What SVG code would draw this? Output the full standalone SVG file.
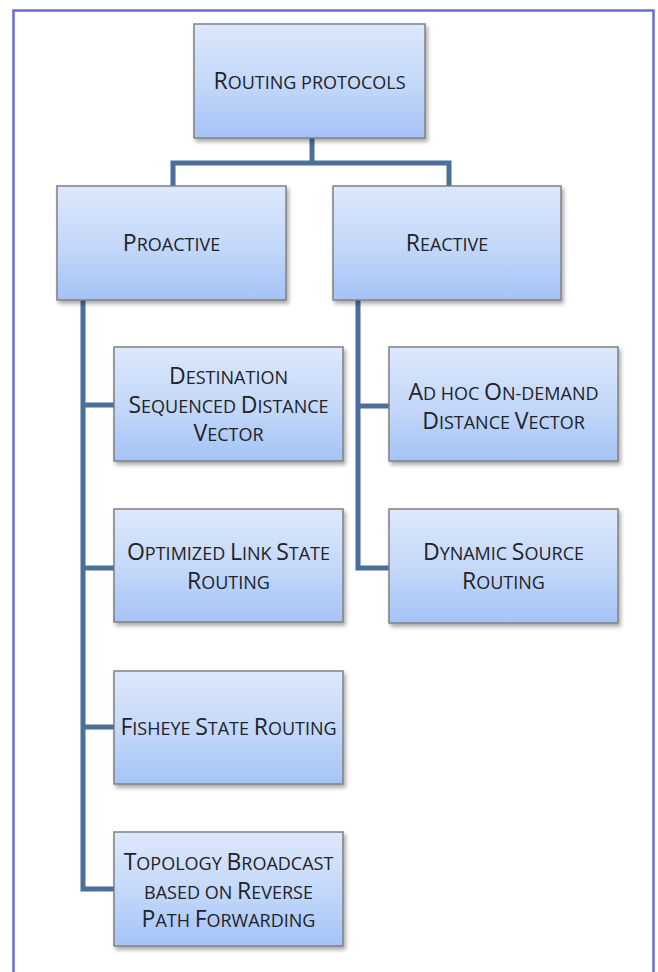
<svg xmlns="http://www.w3.org/2000/svg" width="658" height="972" viewBox="0 0 658 972">
  <style>
    .box { fill: url(#boxFill); stroke: #808080; stroke-width: 1.5; filter: url(#shadow); }
    .lbl { font-family: "Open Sans", "Liberation Sans", sans-serif; font-size: 23px; fill: #222228; text-anchor: middle; }
    .s { font-size: 18px; text-transform: uppercase; }
    .conn { fill: none; stroke: #4a6f9b; stroke-width: 5; stroke-linejoin: miter; }
  </style>
  <defs>
    <linearGradient id="boxFill" x1="0" y1="0" x2="0" y2="1">
      <stop offset="0" stop-color="#dde8fb"/>
      <stop offset="0.55" stop-color="#c2d7f9"/>
      <stop offset="1" stop-color="#a4c3f6"/>
    </linearGradient>
    <filter id="shadow" x="-10%" y="-10%" width="130%" height="130%">
      <feDropShadow dx="2" dy="3" stdDeviation="2" flood-color="#000" flood-opacity="0.35"/>
    </filter>
  </defs>

  <rect width="658" height="972" fill="#ffffff"/>
  <!-- outer frame -->
  <path d="M13.5 980 V10.5 H653.5 V980" fill="none" stroke="#6b6bdc" stroke-width="2.5"/>

  <!-- connectors -->
  <g id="connectors">
    <path class="conn" d="M312 138 V163 M173 186 V163 H449 V186"/>
    <path class="conn" d="M83 300 V889 H114 M83 405 H114 M83 568 H114 M83 727 H114"/>
    <path class="conn" d="M358 300 V568 H389 M358 406 H389"/>
  </g>

  <g id="routing-protocols">
    <rect class="box" x="194" y="24" width="231" height="114"/>
    <text class="lbl" x="309.5" y="89">R<tspan class="s">outing protocols</tspan></text>
  </g>
  <g id="proactive">
    <rect class="box" x="57" y="186" width="229" height="114"/>
    <text class="lbl" x="171.5" y="251">P<tspan class="s">roactive</tspan></text>
  </g>
  <g id="reactive">
    <rect class="box" x="333" y="186" width="228" height="114"/>
    <text class="lbl" x="447" y="251">R<tspan class="s">eactive</tspan></text>
  </g>
  <g id="dsdv">
    <rect class="box" x="114" y="347" width="229" height="114"/>
    <text class="lbl" x="228.5" y="384">D<tspan class="s">estination</tspan></text>
    <text class="lbl" x="228.5" y="413">S<tspan class="s">equenced </tspan>D<tspan class="s">istance</tspan></text>
    <text class="lbl" x="228.5" y="441">V<tspan class="s">ector</tspan></text>
  </g>
  <g id="olsr">
    <rect class="box" x="114" y="509" width="229" height="113"/>
    <text class="lbl" x="228.5" y="560">O<tspan class="s">ptimized </tspan>L<tspan class="s">ink </tspan>S<tspan class="s">tate</tspan></text>
    <text class="lbl" x="228.5" y="589">R<tspan class="s">outing</tspan></text>
  </g>
  <g id="fsr">
    <rect class="box" x="114" y="671" width="229" height="113"/>
    <text class="lbl" x="228.5" y="735">F<tspan class="s">isheye </tspan>S<tspan class="s">tate </tspan>R<tspan class="s">outing</tspan></text>
  </g>
  <g id="tbrpf">
    <rect class="box" x="114" y="832" width="229" height="114"/>
    <text class="lbl" x="228.5" y="870">T<tspan class="s">opology </tspan>B<tspan class="s">roadcast</tspan></text>
    <text class="lbl" x="228.5" y="899"><tspan class="s">based on </tspan>R<tspan class="s">everse</tspan></text>
    <text class="lbl" x="228.5" y="927">P<tspan class="s">ath </tspan>F<tspan class="s">orwarding</tspan></text>
  </g>
  <g id="aodv">
    <rect class="box" x="389" y="347" width="229" height="114"/>
    <text class="lbl" x="503.5" y="400">A<tspan class="s">d hoc </tspan>O<tspan class="s">n-demand</tspan></text>
    <text class="lbl" x="503.5" y="429">D<tspan class="s">istance </tspan>V<tspan class="s">ector</tspan></text>
  </g>
  <g id="dsr">
    <rect class="box" x="389" y="509" width="229" height="114"/>
    <text class="lbl" x="503.5" y="560">D<tspan class="s">ynamic </tspan>S<tspan class="s">ource</tspan></text>
    <text class="lbl" x="503.5" y="589">R<tspan class="s">outing</tspan></text>
  </g>
</svg>
